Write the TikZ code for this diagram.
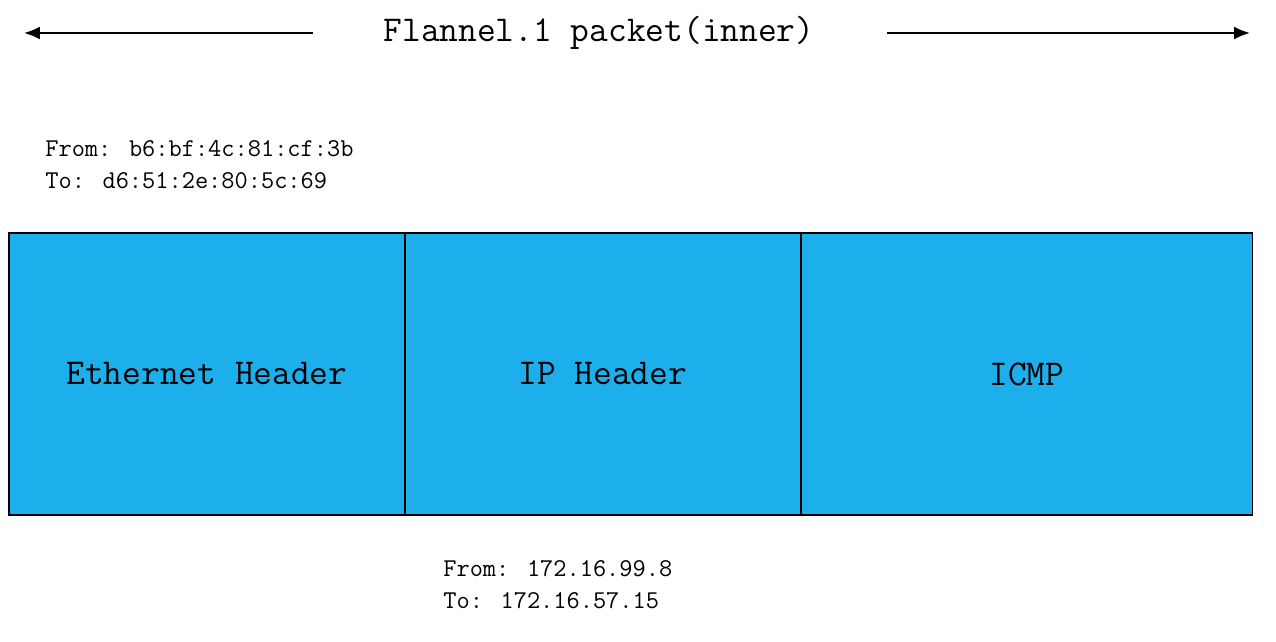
\documentclass[tikz,border=0pt]{standalone}
\usetikzlibrary{positioning,arrows.meta}
\definecolor{hdrblue}{RGB}{29,175,236}
\begin{document}
\begin{tikzpicture}[x=0.02cm,y=-0.02cm,
  cell/.style={draw, line width=0.8pt, fill=hdrblue, minimum height=5.64cm,
    inner sep=0pt, outer sep=0pt, font=\fontsize{20.7}{22}\selectfont\ttfamily},
  addr/.style={align=left, inner sep=0pt, anchor=west,
    font=\fontsize{14.6}{18.2}\selectfont\ttfamily},
  span/.style={line width=1.1pt, -{Latex[length=0.32cm,width=0.26cm]}}]
\useasboundingbox (0,0) rectangle (1276,642);
% Titulo con flechas
\node[font=\fontsize{20.7}{22}\selectfont\ttfamily] (title) at (599,33) {Flannel.1 packet(inner)};
\coordinate (lstart) at (313,33);
\coordinate (lend) at (24,33);
\coordinate (rstart) at (887,33);
\coordinate (rend) at (1250,33);
\draw[span] (lstart) -- (lend);
\draw[span] (rstart) -- (rend);
% Cabeceras del paquete
\node[cell, minimum width=7.92cm, anchor=north west] (eth) at (9,233) {Ethernet Header};
\node[cell, minimum width=7.92cm, right=0pt of eth] (ip) {IP Header};
\node[cell, minimum width=9.04cm, right=0pt of ip] (icmp) {ICMP};
% Direcciones
\node[addr] (macs) at (45,165) {From: b6:bf:4c:81:cf:3b\\To: d6:51:2e:80:5c:69};
\node[addr] (ips) at (443,585) {From: 172.16.99.8\\To: 172.16.57.15};
\end{tikzpicture}
\end{document}
